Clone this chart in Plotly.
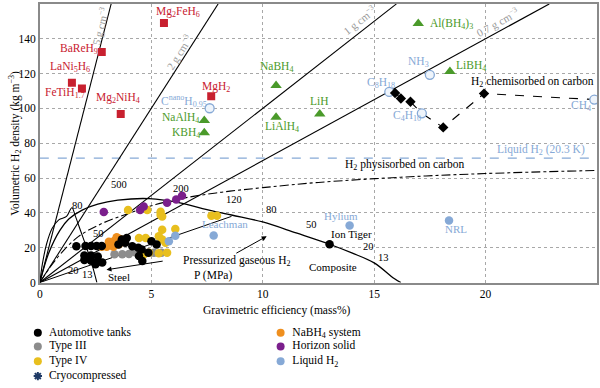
import math
import plotly.graph_objects as go

# ---------------- data ----------------
# hydrides (red squares)
hyd_names = ["Mg<sub>2</sub>FeH<sub>6</sub>", "BaReH<sub>9</sub>", "LaNi<sub>5</sub>H<sub>6</sub>",
             "FeTiH<sub>1.7</sub>", "Mg<sub>2</sub>NiH<sub>4</sub>", "MgH<sub>2</sub>"]
hyd_x = [5.57, 2.78, 1.44, 1.89, 3.63, 7.69]
hyd_y = [149.0, 132.4, 114.7, 111.4, 96.8, 107.0]

# complex hydrides (green triangles)
cpx_names = ["NaAlH<sub>4</sub>", "KBH<sub>4</sub>", "NaBH<sub>4</sub>", "LiAlH<sub>4</sub>",
             "LiH", "Al(BH<sub>4</sub>)<sub>3</sub>", "LiBH<sub>4</sub>"]
cpx_x = [7.38, 7.38, 10.6, 10.6, 12.56, 16.98, 18.4]
cpx_y = [93.1, 86.0, 113.2, 95.0, 96.8, 148.7, 121.2]

# liquid chemicals / carbon (light blue open circles)
chem_names = ["C<sup>nano</sup>H<sub>0.95</sub>", "NH<sub>3</sub>", "C<sub>8</sub>H<sub>18</sub>",
              "C<sub>4</sub>H<sub>10</sub>", "CH<sub>4</sub>"]
chem_x = [7.62, 17.5, 15.68, 17.14, 24.88]
chem_y = [100.1, 119.3, 109.5, 97.2, 105.1]

# H2 chemisorbed on carbon (black diamonds) and its dashed path
dia_x = [15.94, 16.2, 16.63, 18.1, 19.93]
dia_y = [108.9, 105.7, 103.8, 89.1, 108.5]
chemis_path_x = [15.94, 16.2, 16.63, 17.14, 18.1, 19.93, 24.88]
chemis_path_y = [108.9, 105.7, 103.8, 97.2, 89.1, 108.5, 105.1]

# H2 physisorbed on carbon (dash-dot curve)
phys_x = [0, 0.5, 1.0, 1.74, 2.8, 3.97, 5.2, 6.5, 8.17, 10.0, 12.5, 16.2, 20.0, 25.0]
phys_y = [0, 9.5, 17.5, 26.5, 34.0, 39.7, 44.8, 48.6, 51.9, 54.5, 57.5, 60.5, 62.6, 64.4]

# material density lines (g cm-3)
densities = [5, 2, 1, 0.7]
density_labels = ["5 g cm<sup>−3</sup>", "2 g cm<sup>−3</sup>", "1 g cm<sup>−3</sup>", "0.7 g cm<sup>−3</sup>"]

# pressurized gaseous H2 curves
comp_x = [16.2, 15.9, 15.0, 14.0, 13.0, 11.5, 10.0, 8.6, 7.3, 6.4, 4.9, 3.5, 2.6, 1.9, 1.3, 0.9, 0.4, 0]
comp_y = [0, 2.3, 11.3, 17.0, 22.0, 28.5, 34.8, 38.8, 42.5, 45.5, 48.2, 47.3, 45.0, 41.6, 36.5, 30.0, 17.0, 0]
steel_x = [2.56, 2.35, 2.1, 1.85, 1.6, 1.44, 1.2, 0.85, 0.55, 0.3, 0.12, 0]
steel_y = [0, 10.0, 20.0, 29.0, 38.0, 43.0, 38.0, 36.0, 31.0, 22.0, 11.0, 0]
# straight ray from the origin to the composite curve
ray_x = [0, 8.6]
ray_y = [0, 38.0]

# liquid hydrogen density
liquid_h2 = 71.5

# technology data points (filled circles)
auto_x = [1.64, 2.05, 2.3, 2.55, 2.78, 3.53, 3.68, 3.83, 3.9, 4.15, 4.42, 4.57, 4.87, 5.01, 5.24,
          4.45, 4.6, 2.0, 2.3, 2.6, 2.0, 2.3, 2.6, 2.8, 2.5, 13.0]
auto_y = [20.9, 21.0, 21.0, 21.0, 21.0, 21.9, 24.7, 22.8, 25.6, 20.9, 20.0, 19.0, 17.1, 23.7, 21.9,
          15.3, 12.4, 15.5, 15.5, 15.0, 13.0, 12.5, 12.0, 11.5, 10.5, 22.0]
type3_x = [3.35, 3.7, 4.0, 4.3, 4.55, 5.12, 5.46]
type3_y = [16.2, 16.2, 16.4, 17.3, 16.8, 17.1, 17.1]
type4_x = [3.96, 4.82, 5.42, 5.42, 5.49, 7.7, 7.95, 4.45, 4.75, 5.34, 5.49, 5.49, 6.08, 4.9, 5.34,
           5.71, 5.64, 4.67]
type4_y = [41.6, 41.6, 40.7, 38.8, 37.9, 38.4, 38.4, 25.6, 25.6, 26.6, 30.3, 24.7, 30.7, 17.1, 16.8,
           17.1, 22.8, 16.2]
nabh4_x = [2.78, 3.0, 3.2, 3.35, 3.45, 3.55, 3.3, 3.6, 3.1]
nabh4_y = [20.5, 20.5, 22.0, 24.0, 26.0, 22.0, 20.5, 25.0, 23.5]
horizon_x = [2.87, 4.5, 4.66, 5.71, 6.12, 6.38]
horizon_y = [40.5, 41.6, 43.7, 45.8, 47.7, 49.9]
liq_x = [5.79, 6.08, 7.8, 13.9, 18.36]
liq_y = [23.7, 26.9, 27.0, 32.8, 35.6]

legend_names = ["Automotive tanks", "Type III", "Type IV", "Cryocompressed",
                "NaBH<sub>4</sub> system", "Horizon solid", "Liquid H<sub>2</sub>"]

# ---------------- styling ----------------
FONT = "Liberation Serif"
RED = "#c8202f"
GREEN = "#4a9a2a"
LBLUE = "#86a9d6"
BLACK = "#000000"
GRAY = "#8c8c8c"
YELLOW = "#e8bf1e"
ORANGE = "#ef8f1e"
PURPLE = "#7b1f8c"
CRYO = "#1f3a66"

W, H = 600, 388
X0, X1 = 37, 597     # plot area pixels
Y0, Y1 = 4, 287

def px(xp, yp):
    """pixel position -> data coordinates (for text placement)"""
    return (xp - X0) / (X1 - X0) * 25.0, (Y1 - yp) / (Y1 - Y0) * 160.0

fig = go.Figure()

fig.add_trace(go.Scatter(x=[0, 25], y=[liquid_h2, liquid_h2], mode="lines",
                         line=dict(color=LBLUE, width=1.2, dash="dash"), hoverinfo="skip"))

for d in densities:
    slope = 10.0 * d
    xe = min(25.0, 160.0 / slope)
    fig.add_trace(go.Scatter(x=[0, xe], y=[0, slope * xe], mode="lines",
                             line=dict(color="black", width=1.1), hoverinfo="skip"))

fig.add_trace(go.Scatter(x=phys_x, y=phys_y, mode="lines", line_shape="spline",
                         line=dict(color="black", width=1.1, dash="dashdot")))
fig.add_trace(go.Scatter(x=comp_x, y=comp_y, mode="lines", line_shape="spline",
                         line=dict(color="black", width=1.3)))
fig.add_trace(go.Scatter(x=steel_x, y=steel_y, mode="lines", line_shape="spline",
                         line=dict(color="black", width=1.1)))
fig.add_trace(go.Scatter(x=ray_x, y=ray_y, mode="lines",
                         line=dict(color="black", width=1.0)))
fig.add_trace(go.Scatter(x=chemis_path_x, y=chemis_path_y, mode="lines",
                         line=dict(color="black", width=1.1, dash="dash")))

def dots(x, y, c):
    fig.add_trace(go.Scatter(x=x, y=y, mode="markers",
                             marker=dict(symbol="circle", size=8.5, color=c, line=dict(width=0))))

dots(type3_x, type3_y, GRAY)
dots(type4_x, type4_y, YELLOW)
dots(liq_x, liq_y, LBLUE)
dots(nabh4_x, nabh4_y, ORANGE)
dots(auto_x, auto_y, BLACK)
dots(horizon_x, horizon_y, PURPLE)

fig.add_trace(go.Scatter(x=hyd_x, y=hyd_y, mode="markers",
                         marker=dict(symbol="square", size=8, color=RED)))
fig.add_trace(go.Scatter(x=cpx_x, y=cpx_y, mode="markers",
                         marker=dict(symbol="triangle-up", size=10, color=GREEN)))
fig.add_trace(go.Scatter(x=chem_x, y=chem_y, mode="markers",
                         marker=dict(symbol="circle", size=9, color="#eef4fb",
                                     line=dict(color=LBLUE, width=1.3))))
fig.add_trace(go.Scatter(x=dia_x, y=dia_y, mode="markers",
                         marker=dict(symbol="diamond", size=8, color="black")))

# ---------------- annotations ----------------
ann = []
def label(text, xp, yp, color="black", size=11, angle=0, xanchor="center"):
    x, y = px(xp, yp)
    ann.append(dict(x=x, y=y, xref="x", yref="y", text=text, showarrow=False,
                    font=dict(family=FONT, size=size, color=color),
                    textangle=angle, xanchor=xanchor, yanchor="middle"))

hyd_lab_pos = [(176, 12), (76, 50), (67, 68), (62, 94), (116, 100), (214, 88)]
for t, (a, b) in zip(hyd_names, hyd_lab_pos):
    label(t, a, b, RED, 11.5)
cpx_lab_pos = [(178, 120), (184, 135), (275, 68), (280, 129), (318, 103), (451, 24), (470, 67)]
for t, (a, b) in zip(cpx_names, cpx_lab_pos):
    label(t, a, b, GREEN, 11.5)
chem_lab_pos = [(182, 103), (418, 63), (380, 84), (406, 118), (581, 108)]
for t, (a, b) in zip(chem_names, chem_lab_pos):
    label(t, a, b, LBLUE, 11.5)

label("H<sub>2</sub> chemisorbed on carbon", 532, 83, "black", 11.5)
label("Liquid H<sub>2</sub> (20.3 K)", 541, 152, LBLUE, 11.5)
label("H<sub>2</sub> physisorbed on carbon", 404, 168, "black", 11.5)

dl_pos = [(97, 27), (177, 53), (358, 20), (497, 22)]
for t, d, (a, b) in zip(density_labels, densities, dl_pos):
    ang = math.degrees(math.atan(10 * d * (Y1 - Y0) / 160.0 / ((X1 - X0) / 25.0)))
    label(t, a, b, "#9a9a9a", 11, -ang)

for t, a, b in [("500", 117, 187), ("200", 179, 191), ("120", 232, 203), ("80", 270, 213),
                ("50", 310, 228), ("20", 367, 250), ("13", 382, 262),
                ("80", 75, 209), ("50", 96, 237), ("20", 71, 275), ("13", 85, 279)]:
    label(t, a, b, "black", 10.5)

label("Steel", 117, 281, "black", 11)
label("Composite", 332, 271, "black", 11)
label("Ion Tiger", 350, 238, "black", 11)
label("Hylium", 340, 219, LBLUE, 11)
label("Leachman", 223, 228, LBLUE, 11)
label("NRL", 455, 233, LBLUE, 11)
label("Pressurized gaseous H<sub>2</sub>", 235, 265, "black", 11.5)
label("P (MPa)", 211, 280, "black", 11.5)

for (tx, ty), (hx, hy) in [((233, 258), (265, 240)), ((162, 265), (104, 274))]:
    x, y = px(hx, hy)
    axv, ayv = px(tx, ty)
    ann.append(dict(x=x, y=y, ax=axv, ay=ayv, xref="x", yref="y", axref="x", ayref="y",
                    showarrow=True, arrowhead=2, arrowsize=1, arrowwidth=1, arrowcolor="black", text=""))

ann.append(dict(x=275 / W, y=1 - 315 / H, xref="paper", yref="paper", showarrow=False,
                xanchor="center", yanchor="middle",
                text="Gravimetric efficiency (mass%)", font=dict(family=FONT, size=11.5)))
ann.append(dict(x=12 / W, y=1 - 145 / H, xref="paper", yref="paper", showarrow=False, textangle=-90,
                xanchor="center", yanchor="middle",
                text="Volumetric H<sub>2</sub> density (kg m<sup>−3</sup>)", font=dict(family=FONT, size=11.5)))

# ---------------- legend (helper axis in pixel units) ----------------
leg_cols = [BLACK, GRAY, YELLOW, CRYO, ORANGE, PURPLE, LBLUE]
leg_sym = ["circle", "circle", "circle", "asterisk-open", "circle", "circle", "circle"]
leg_px = [(35, 338), (35, 352), (35, 367), (35, 382), (279, 338), (279, 352), (279, 367)]
for name, c, s, (a, b) in zip(legend_names, leg_cols, leg_sym, leg_px):
    mk = dict(symbol=s, size=8, color=c)
    if s == "asterisk-open":
        mk = dict(symbol="asterisk-open", size=7, color=c, line=dict(color=c, width=2))
    fig.add_trace(go.Scatter(x=[a], y=[b], xaxis="x2", yaxis="y2", mode="markers+text",
                             text=["  " + name], textposition="middle right",
                             textfont=dict(family=FONT, size=11.5, color="black"),
                             marker=mk, hoverinfo="skip"))

fig.update_layout(
    width=W, height=H, margin=dict(l=0, r=0, t=0, b=0),
    paper_bgcolor="white", plot_bgcolor="white", showlegend=False,
    font=dict(family=FONT, size=11, color="black"),
    annotations=ann,
    xaxis=dict(domain=[X0 / W, X1 / W], range=[0, 25], tickvals=[0, 5, 10, 15, 20, 25],
               showgrid=True, gridcolor="#a8a8a8", griddash="dot", gridwidth=1,
               showline=True, mirror=True, linecolor="#8a8a8a", linewidth=1.5,
               ticks="", zeroline=False, tickfont=dict(family=FONT, size=11.5)),
    yaxis=dict(domain=[1 - Y1 / H, 1 - Y0 / H], range=[0, 160], dtick=20,
               showgrid=True, gridcolor="#a8a8a8", griddash="dot", gridwidth=1,
               showline=True, mirror=True, linecolor="#8a8a8a", linewidth=1.5,
               ticks="", zeroline=False, tickfont=dict(family=FONT, size=11.5)),
    xaxis2=dict(domain=[0, 1], range=[0, W], visible=False, anchor="y2"),
    yaxis2=dict(domain=[0, 1 - Y1 / H - 0.03], range=[H, Y1 + 0.03 * H], visible=False, anchor="x2"),
)

fig.write_html("out.html", config={"displayModeBar": False},
               post_script="document.body.style.margin='0';document.body.style.overflow='hidden';")
